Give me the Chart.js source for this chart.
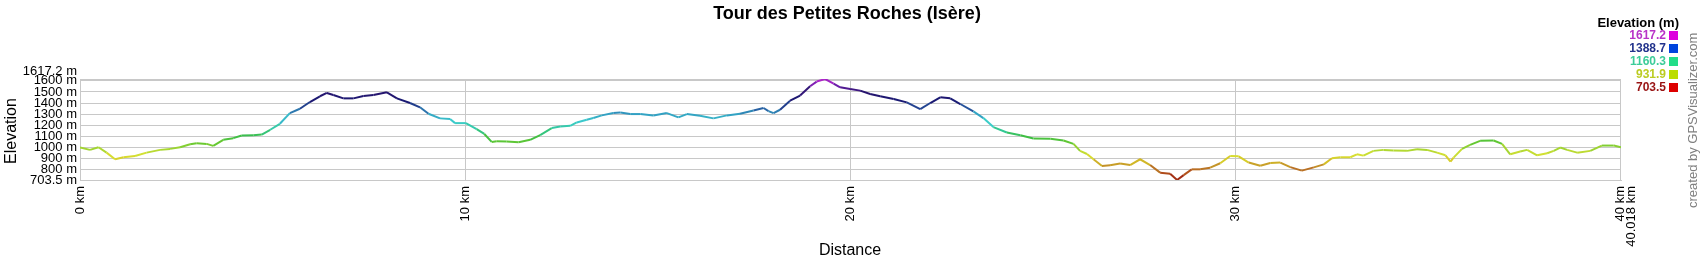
<!DOCTYPE html>
<html>
<head>
<meta charset="utf-8">
<script src="https://cdn.jsdelivr.net/npm/chart.js@4"></script>
<style>
html, body { margin: 0; padding: 0; background: #fff; }
</style>
</head>
<body>
<canvas id="profile" width="1700" height="260"></canvas>
<script>
// Track profile
var distanceKm = [
  0.00, 0.26, 0.48, 0.69, 0.91, 1.13, 1.43, 1.73, 2.08, 2.34, 2.60, 2.86, 3.03, 3.29, 3.46, 3.72, 3.98, 4.20, 4.50, 4.72,
  4.94, 5.19, 5.45, 5.71, 5.97, 6.23, 6.41, 6.58, 6.84, 7.10, 7.36, 7.62, 7.97, 8.23, 8.57, 8.83, 9.05, 9.35, 9.61, 9.74,
  10.02, 10.30, 10.50, 10.69, 10.82, 11.08, 11.39, 11.69, 11.95, 12.25, 12.47, 12.73, 12.90, 13.16, 13.33, 13.55, 13.85, 14.03, 14.29, 14.55,
  14.89, 15.24, 15.54, 15.76, 16.10, 16.45, 16.80, 17.14, 17.49, 17.75, 17.88, 18.01, 18.18, 18.44, 18.70, 18.96, 19.13, 19.35, 19.57, 19.74,
  20.00, 20.26, 20.52, 20.78, 21.13, 21.47, 21.82, 22.08, 22.34, 22.60, 22.86, 23.20, 23.46, 23.72, 24.07, 24.42, 24.76, 25.20, 25.54, 25.80,
  25.97, 26.15, 26.32, 26.54, 26.75, 27.01, 27.27, 27.53, 27.79, 28.05, 28.31, 28.49, 28.66, 28.87, 29.09, 29.35, 29.61, 29.87, 30.09, 30.35,
  30.65, 30.91, 31.17, 31.43, 31.73, 32.04, 32.30, 32.51, 32.73, 32.99, 33.16, 33.33, 33.59, 33.85, 34.11, 34.46, 34.72, 34.98, 35.24, 35.46,
  35.59, 35.67, 35.89, 36.10, 36.36, 36.71, 36.93, 37.14, 37.40, 37.58, 37.84, 38.10, 38.27, 38.44, 38.62, 38.88, 39.22, 39.52, 39.83, 40.018
];
var elevationM = [
  997, 976, 1000, 951, 891, 909, 921, 951, 976, 985, 1000, 1027, 1036, 1030, 1012, 1067, 1082, 1106, 1109, 1115,
  1158, 1212, 1309, 1348, 1409, 1461, 1491, 1473, 1442, 1442, 1464, 1473, 1497, 1442, 1400, 1361, 1303, 1261, 1255, 1218,
  1218, 1164, 1120, 1048, 1055, 1052, 1045, 1067, 1109, 1173, 1188, 1194, 1224, 1248, 1264, 1288, 1309, 1315, 1300, 1300,
  1288, 1309, 1270, 1300, 1285, 1261, 1288, 1303, 1333, 1355, 1327, 1309, 1339, 1421, 1467, 1552, 1594, 1617.2, 1576, 1542,
  1527, 1512, 1482, 1461, 1436, 1406, 1345, 1400, 1452, 1442, 1391, 1324, 1264, 1182, 1133, 1109, 1079, 1076, 1061, 1030,
  967, 939, 891, 830, 836, 852, 839, 891, 839, 770, 761, 703.5, 748, 800, 800, 815, 855, 921, 918, 861,
  833, 858, 861, 820, 788, 818, 845, 900, 909, 909, 936, 924, 967, 976, 970, 967, 982, 976, 951, 927,
  870, 906, 985, 1021, 1058, 1061, 1030, 936, 961, 976, 927, 945, 967, 997, 976, 951, 967, 1015, 1015, 1000
];

var xTickValues = [0, 10, 20, 30, 40];
var xTickLabels = ['0 km', '10 km', '20 km', '30 km', ['40 km', '40.018 km']];
var yTickValues = [703.5, 800, 900, 1000, 1100, 1200, 1300, 1400, 1500, 1600, 1617.2];
var yTickLabels = ['703.5 m', '800 m', '900 m', '1000 m', '1100 m', '1200 m', '1300 m', '1400 m', '1500 m', '1600 m', ['1617.2 m', '']];

var legendValues = ['1617.2', '1388.7', '1160.3', '931.9', '703.5'];
var legendTextColors = ['#b833c8', '#22338c', '#3ccc99', '#bccc22', '#991414'];
var legendBoxColors = ['#dd00dd', '#0044dd', '#22dd88', '#bbdd00', '#dd0000'];

// line colour by elevation
var colorStops = [
  [703.5, 150, 25, 15], [760, 175, 70, 25], [820, 190, 130, 40], [880, 215, 200, 40],
  [930, 215, 225, 50], [980, 170, 215, 50], [1040, 100, 200, 50], [1100, 60, 190, 70],
  [1160, 50, 200, 150], [1230, 60, 205, 205], [1300, 50, 160, 195], [1350, 40, 90, 160],
  [1420, 25, 25, 115], [1500, 40, 20, 110], [1560, 110, 30, 170], [1617.2, 190, 40, 210]
];

function elevColor(e) {
  for (var i = 1; i < colorStops.length; i++) {
    var a = colorStops[i - 1], b = colorStops[i];
    if (e <= b[0] || i == colorStops.length - 1) {
      var t = Math.max(0, Math.min(1, (e - a[0]) / (b[0] - a[0])));
      var r = Math.round(a[1] + (b[1] - a[1]) * t);
      var g = Math.round(a[2] + (b[2] - a[2]) * t);
      var bl = Math.round(a[3] + (b[3] - a[3]) * t);
      return 'rgb(' + r + ',' + g + ',' + bl + ')';
    }
  }
}

var points = distanceKm.map(function (d, i) { return { x: d, y: elevationM[i] }; });

var FONT = '"Liberation Sans", Arial, sans-serif';

var textPlugin = {
  id: 'texts',
  afterDraw: function (chart) {
    var c = chart.ctx;
    c.save();
    c.fillStyle = '#000';
    c.textAlign = 'center';
    c.textBaseline = 'middle';
    c.font = 'bold 18px ' + FONT;
    c.fillText('Tour des Petites Roches (Isère)', 847, 14);

    c.font = '16px ' + FONT;
    c.fillText('Distance', 850, 251);
    c.save();
    c.translate(12, 131);
    c.rotate(-Math.PI / 2);
    c.fillText('Elevation', 0, 0);
    c.restore();

    // legend
    c.font = 'bold 13px ' + FONT;
    c.textAlign = 'right';
    c.fillText('Elevation (m)', 1679, 23);
    c.font = 'bold 12px ' + FONT;
    for (var i = 0; i < legendValues.length; i++) {
      var y = 35.5 + i * 13;
      c.fillStyle = legendTextColors[i];
      c.fillText(legendValues[i], 1666, y);
      c.fillStyle = legendBoxColors[i];
      c.fillRect(1669, y - 4.5, 9, 9);
    }

    // credit
    c.save();
    c.translate(1693, 208);
    c.rotate(-Math.PI / 2);
    c.textAlign = 'left';
    c.fillStyle = '#808080';
    c.font = '13px ' + FONT;
    c.fillText('created by GPSVisualizer.com', 0, 0);
    c.restore();
    c.restore();
  }
};

var chart = new Chart(document.getElementById('profile'), {
  type: 'line',
  data: {
    datasets: [{
      data: points,
      borderWidth: 2,
      pointRadius: 0,
      tension: 0,
      fill: false,
      segment: {
        borderColor: function (ctx) { return elevColor((ctx.p0.parsed.y + ctx.p1.parsed.y) / 2); }
      }
    }]
  },
  options: {
    responsive: false,
    animation: false,
    devicePixelRatio: 1,
    layout: { padding: { left: 0, right: 79, top: 79, bottom: 0 } },
    plugins: { legend: { display: false }, tooltip: { enabled: false } },
    scales: {
      x: {
        type: 'linear',
        min: 0,
        max: 40.018,
        afterBuildTicks: function (s) { s.ticks = xTickValues.map(function (v) { return { value: v }; }); },
        afterFit: function (s) { s.height = 80; },
        grid: { color: '#c8c8c8', drawTicks: false },
        border: { color: '#c8c8c8' },
        ticks: {
          autoSkip: false,
          minRotation: 90,
          maxRotation: 90,
          padding: 6,
          color: '#000',
          font: { family: FONT, size: 13, lineHeight: 0.85 },
          callback: function (v, i) { return xTickLabels[i]; }
        }
      },
      y: {
        type: 'linear',
        min: 703.5,
        max: 1617.2,
        afterBuildTicks: function (s) { s.ticks = yTickValues.map(function (v) { return { value: v }; }); },
        afterFit: function (s) { s.width = 80; },
        grid: { color: '#c8c8c8', drawTicks: false },
        border: { color: '#c8c8c8' },
        ticks: {
          autoSkip: false,
          padding: 3,
          color: '#000',
          font: { family: FONT, size: 13, lineHeight: 1.1 },
          callback: function (v, i) { return yTickLabels[i]; }
        }
      }
    }
  },
  plugins: [textPlugin]
});
</script>
</body>
</html>
